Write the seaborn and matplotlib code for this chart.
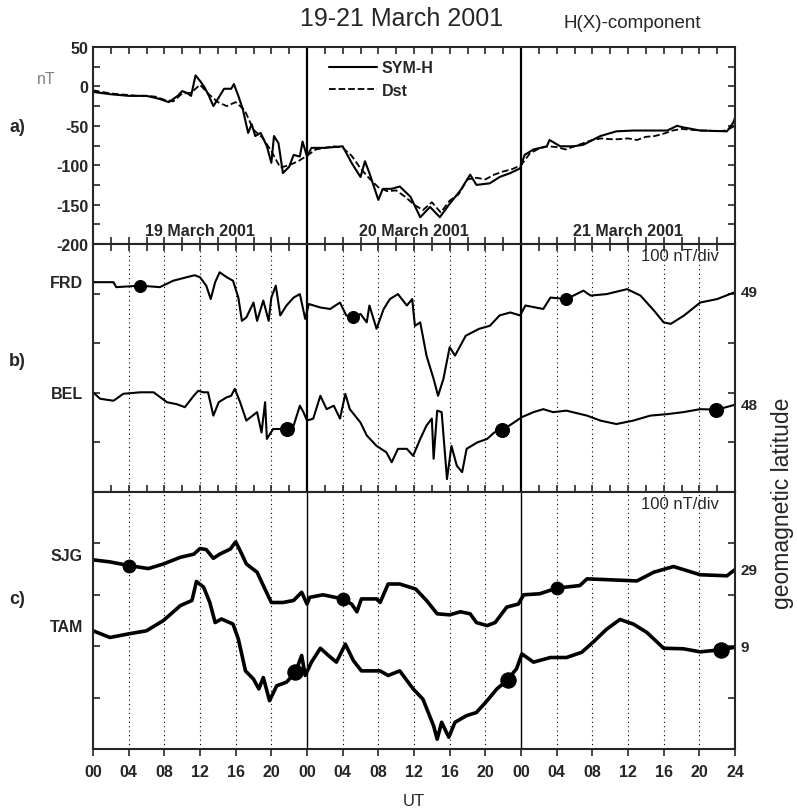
import numpy as np
import pandas as pd
import matplotlib
matplotlib.use('Agg')
import matplotlib.pyplot as plt
from matplotlib.ticker import MultipleLocator
import seaborn as sns

# hours since 00 UT 19 March 2001
# SYM-H (nT)
symh_hr = [0, 2, 4, 6, 7.5, 8.5, 9.5, 10, 10.5, 11, 11.5, 12, 12.5, 13, 13.5, 14, 14.7, 15.5, 15.8,
           16.3, 16.8, 17.4, 17.8, 18.2, 18.8, 19.5, 20, 20.3, 20.8, 21.3, 22, 22.5, 23.2, 23.5, 24,
           24.5, 26, 28, 29, 30, 30.5, 31, 32, 32.5, 33.5, 34.4, 35.6, 36.7, 37.8, 38.9, 40, 41.2,
           42.3, 43, 44.5, 45.6, 46.8, 47.9, 48.4, 49.4, 50.9, 51.2, 52.4, 53.9, 55, 56.9, 58.7,
           60.6, 64.4, 65.5, 66.2, 68.1, 71.1, 71.8, 72]
symh_val = [-7, -10, -12, -12, -16, -20, -12, -6, -8, -12, 14, 7, -1, -12, -25, -16, -3, -3, 3,
            -12, -29, -59, -48, -63, -59, -76, -97, -63, -72, -110, -102, -87, -89, -70, -89,
            -78, -78, -76, -97, -115, -95, -110, -144, -130, -130, -127, -140, -166, -153, -166, -149, -132,
            -112, -125, -123, -115, -110, -104, -87, -80, -76, -68, -76, -76, -74, -63, -57,
            -56, -56, -50, -52, -56, -57, -46, -40]

# Dst, hourly (nT)
dst_hr = list(range(73))
dst_val = [-5, -7, -9, -10, -11, -12, -12, -13, -17, -19, -9, -8, 2, -10, -20, -25, -20, -30, -55, -65,
           -82, -103, -100, -95, -88, -80, -78, -76, -78, -88, -104, -117, -128, -133, -132, -140, -150,
           -157, -147, -160, -145, -137, -118, -116, -118, -112, -108, -105, -100, -85, -79, -76, -77,
           -80, -76, -72, -68, -66, -67, -67, -66, -68, -64, -63, -60, -56, -54, -55, -56, -56, -57,
           -56, -50]

# station H traces, offset within a 0-500 nT frame (100 nT/div)
frd_hr = [0, 2.3, 2.6, 5.3, 7.5, 9, 10.5, 11.4, 12, 12.7, 13.2, 13.7, 14.2, 15, 15.7, 16.3, 16.7, 17.2,
          18, 18.4, 19.1, 19.7, 20, 20.5, 21, 21.7, 22.5, 23.2, 23.8, 24.2, 25.5, 26.6, 27.7, 28.4,
          29.2, 30, 30.7, 31, 31.8, 32.6, 33.3, 34.2, 35.2, 35.8, 36.1, 36.7, 37.4, 38.2, 38.7, 39.3,
          40, 40.6, 41.8, 43.3, 44.5, 45.6, 46.8, 47.9, 48.5, 50.5, 51.3, 53.1, 55, 55.8, 57.6, 59.9,
          61.4, 62.9, 64, 64.8, 66.3, 68.1, 70, 72]
frd_val = [423, 423, 413, 416, 413, 426, 433, 437, 433, 416, 389, 423, 443, 433, 426, 392, 345, 352,
           382, 345, 386, 345, 392, 416, 356, 376, 392, 399, 349, 379, 372, 369, 382, 356,
           352, 359, 342, 376, 329, 369, 389, 399, 376, 389, 335, 342, 275, 228, 194, 228,
           292, 275, 315, 329, 335, 356, 362, 356, 376, 369, 392, 389, 406, 396, 399, 409,
           396, 366, 342, 339, 356, 382, 389, 403]

bel_hr = [0, 0.8, 2.3, 3.4, 5.3, 6.8, 8.3, 9.4, 10.3, 11.3, 11.8, 12.4, 12.9, 13.5, 14.1, 15, 15.5,
          15.9, 16.5, 17.2, 18.4, 18.9, 19.3, 19.5, 20.2, 21.7, 22.5, 23.2, 23.6, 24, 24.7, 25.5,
          26.2, 27, 27.7, 28.3, 28.8, 30, 30.7, 31.8, 32.9, 33.5, 34.2, 35.2, 35.9, 36.7, 37.4, 38,
          38.2, 38.6, 39.1, 39.7, 40.2, 40.8, 41.4, 41.9, 43.1, 44.2, 45, 46.1, 47.2, 48.1, 49.4,
          50.5, 51.6, 53.1, 55.4, 56.9, 58.7, 60.6, 62.5, 64.4, 66.2, 68.1, 70, 72]
bel_val = [201, 188, 184, 198, 201, 201, 181, 177, 171, 194, 204, 201, 201, 154, 181, 191, 194,
           208, 181, 144, 161, 120, 181, 107, 127, 127, 134, 174, 161, 144, 148, 194,
           167, 174, 148, 198, 167, 140, 114, 93, 80, 60, 87, 87, 73, 107, 134, 148,
           67, 164, 161, 26, 93, 53, 40, 87, 100, 107, 120, 127, 140, 151, 161,
           167, 161, 164, 154, 144, 137, 144, 154, 157, 161, 167, 166, 176]

sjg_hr = [0, 1.9, 4, 6.2, 7.9, 9.8, 11.3, 12, 12.7, 13.5, 14.2, 15.4, 16, 16.5, 17.2, 18.4, 19.1, 20,
          21.3, 22.5, 23.4, 24, 24.3, 25.8, 28, 29, 29.6, 30.1, 31.8, 32.2, 33.1, 34.4, 35.5,
          36.2, 37.4, 38.6, 40, 41.2, 42.3, 43, 44.2, 45.1, 46.4, 47.7, 48.3, 50.1, 52, 54.6,
          55.4, 56.9, 61, 62.9, 65.1, 66.6, 68.1, 71.1, 72]
sjg_val = [368, 364, 357, 351, 360, 373, 379, 390, 388, 371, 379, 389, 403, 386, 360, 344, 318, 285,
           285, 289, 305, 282, 295, 300, 292, 282, 267, 292, 292, 285, 321, 321, 315,
           311, 289, 263, 261, 267, 263, 246, 240, 246, 276, 282, 300, 302, 313, 318,
           331, 330, 327, 344, 355, 347, 339, 337, 349]

tam_hr = [0, 1.9, 4, 6, 7.9, 9.8, 11.1, 11.6, 12.4, 13.1, 13.7, 14.4, 15.7, 16.3, 17.1, 18, 18.6,
          19.1, 19.8, 20.6, 21.7, 22.7, 23.4, 23.8, 24.5, 25.5, 26.4, 27.3, 28.3, 29.2, 30.1,
          32.2, 33.1, 34.4, 35.9, 37, 38.2, 38.6, 39.1, 39.9, 40.6, 41.9, 43, 44.2, 45.3, 46.4,
          47.5, 48.1, 49.4, 51.3, 53.1, 54.8, 56.1, 57.6, 59.1, 60.6, 62.1, 64, 66.2, 68.1, 70.4, 72]
tam_val = [230, 217, 224, 230, 250, 279, 289, 326, 315, 285, 246, 253, 243, 214, 152, 136, 117,
           139, 94, 123, 130, 149, 182, 143, 169, 196, 182, 169, 204, 172, 152,
           152, 143, 152, 117, 97, 45, 19, 52, 23, 52, 65, 71, 94, 117, 133,
           156, 185, 169, 178, 178, 188, 208, 233, 252, 243, 227, 196, 195, 189, 193, 198]

# local-time markers (hours) and geomagnetic latitudes
frd_dots = [5.3, 29.2, 53.1]
bel_dots = [21.8, 45.9, 69.9]
sjg_dots = [4, 28, 52]
tam_dots = [22.7, 46.5, 70.4]
stations = [('FRD', '49'), ('BEL', '48'), ('SJG', '29'), ('TAM', '9')]
hour_ticks = list(range(0, 73, 4))
hour_labels = ['%02d' % (h % 24) for h in hour_ticks[:-1]] + ['24']
day_labels = ['19 March 2001', '20 March 2001', '21 March 2001']

sns.set_style('ticks')
plt.rcParams['font.family'] = ['Liberation Sans', 'DejaVu Sans']
plt.rcParams['axes.unicode_minus'] = False
plt.rcParams['axes.linewidth'] = 1.5

W, H = 797, 812
fig = plt.figure(figsize=(W / 100, H / 100), dpi=100)


def box(top, bottom):
    return [93 / W, 1 - bottom / H, (735 - 93) / W, (bottom - top) / H]


ax_a = fig.add_axes(box(48, 245))
ax_b = fig.add_axes(box(245, 493))
ax_c = fig.add_axes(box(493, 750))

bold = dict(fontsize=11, fontweight='bold')


def trace(ax, hr, val, lw, **kw):
    df = pd.DataFrame({'hour': hr, 'nT': val})
    sns.lineplot(data=df, x='hour', y='nT', ax=ax, color='black', lw=lw, estimator=None, **kw)


def dots(ax, hr, val, where, s):
    sns.scatterplot(x=where, y=np.interp(where, hr, val), ax=ax, color='black', s=s,
                    edgecolor='black', zorder=5, legend=False)


# panel a
trace(ax_a, symh_hr, symh_val, 1.5, label='SYM-H')
trace(ax_a, dst_hr, dst_val, 1.3, label='Dst', ls='--')
ax_a.set_ylim(-200, 50)
ax_a.yaxis.set_major_locator(MultipleLocator(50))
ax_a.yaxis.set_minor_locator(MultipleLocator(25))
for lab in ax_a.get_yticklabels():
    lab.set_fontweight('bold')
    lab.set_fontsize(11.5)
leg = ax_a.legend(frameon=False, loc='upper left', bbox_to_anchor=(0.345, 1.005),
                  handlelength=3.0, handletextpad=0.3, labelspacing=0.45,
                  prop=dict(size=11.5, weight='bold'))
for i, txt in enumerate(day_labels):
    ax_a.text(12 + 24 * i, -193, txt, ha='center', va='bottom', fontsize=11.5, fontweight='bold')

# panel b
trace(ax_b, frd_hr, frd_val, 1.5)
trace(ax_b, bel_hr, bel_val, 1.5)
dots(ax_b, frd_hr, frd_val, frd_dots, 75)
dots(ax_b, bel_hr, bel_val, bel_dots, 100)

# panel c
trace(ax_c, sjg_hr, sjg_val, 2.6)
trace(ax_c, tam_hr, tam_val, 2.6)
dots(ax_c, sjg_hr, sjg_val, sjg_dots, 85)
dots(ax_c, tam_hr, tam_val, tam_dots, 120)

for ax in (ax_b, ax_c):
    ax.set_ylim(0, 500)
    ax.yaxis.set_major_locator(MultipleLocator(100))
    ax.set_yticklabels([])
    for h in hour_ticks[1:-1]:
        if h % 24:
            ax.axvline(h, color='black', ls=(0, (1, 3)), lw=0.8, zorder=0)
    ax.text(0.975, 0.955, '100 nT/div', transform=ax.transAxes, ha='right', va='center',
            fontsize=12)

for ax, lw in ((ax_a, 1.6), (ax_b, 1.6), (ax_c, 1.0)):
    ax.set_xlim(0, 72)
    ax.set_xticks(hour_ticks)
    ax.xaxis.set_minor_locator(MultipleLocator(2))
    ax.set_xlabel('')
    ax.set_ylabel('')
    for h in (24, 48):
        ax.axvline(h, color='black', lw=lw, zorder=1)
    ax.tick_params(which='both', direction='in', length=5, width=1.2, top=True, right=True,
                   labelsize=11.5)

for ax in (ax_a, ax_b):
    ax.set_xticklabels([])
ax_c.tick_params(axis='x', which='both', direction='out', top=False)
ax_c.tick_params(axis='x', which='minor', bottom=False)
ax_c.set_xticklabels(hour_labels, fontweight='bold', fontsize=11.5)
ax_c.tick_params(axis='x', pad=6)

# right-hand latitudes
for ax, (hr, val), (_, lat) in zip((ax_b, ax_b, ax_c, ax_c),
                                   ((frd_hr, frd_val), (bel_hr, bel_val),
                                    (sjg_hr, sjg_val), (tam_hr, tam_val)), stations):
    ax.text(72.6, val[-1], lat, ha='left', va='center', fontsize=11, fontweight='bold', clip_on=False)

# figure-level text
fig.text(402 / W, 1 - 19 / H, '19-21 March 2001', ha='center', va='center', fontsize=18)
fig.text(632 / W, 1 - 23 / H, 'H(X)-component', ha='center', va='center', fontsize=13.5)
fig.text(46 / W, 1 - 80 / H, 'nT', ha='center', va='center', fontsize=11.5, color='gray')
for txt, y in (('a)', 128), ('b)', 362), ('c)', 600)):
    fig.text(9 / W, 1 - y / H, txt, ha='left', va='center', fontsize=13, fontweight='bold')
for (name, _), y in zip(stations, (283, 395, 557, 628)):
    fig.text(83 / W, 1 - y / H, name, ha='right', va='center', fontsize=11.5, fontweight='bold')
fig.text(414 / W, 1 - 802 / H, 'UT', ha='center', va='center', fontsize=12)
fig.text(783 / W, 1 - 503 / H, 'geomagnetic latitude', ha='center', va='center',
         rotation=90, fontsize=16.5)

fig.savefig('out.png', dpi=100)
